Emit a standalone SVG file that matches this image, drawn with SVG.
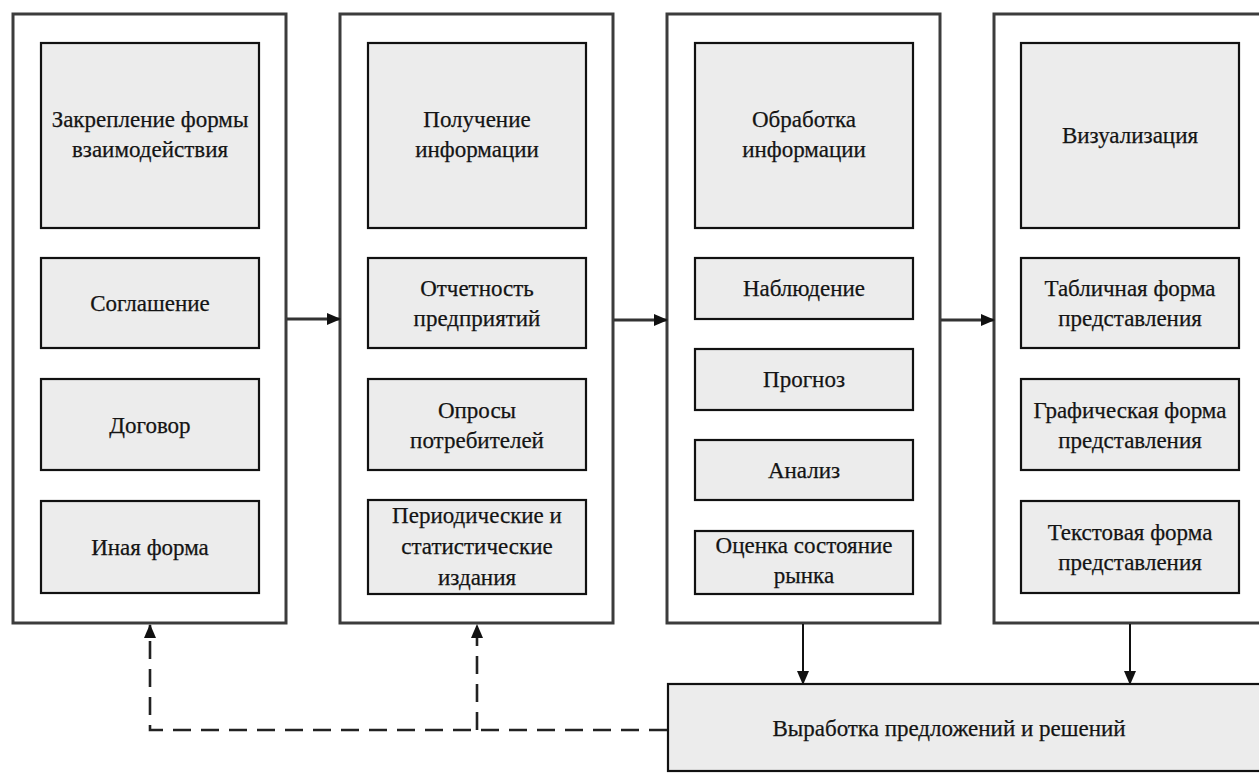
<svg xmlns="http://www.w3.org/2000/svg" width="1259" height="774" viewBox="0 0 1259 774">
  <defs>
    <marker id="arrow" markerUnits="userSpaceOnUse" markerWidth="14" markerHeight="14" viewBox="0 0 14 14" refX="13" refY="7" orient="auto">
      <path d="M0,1 L14,7 L0,13 Z" fill="#111"/>
    </marker>
    <style>
      .panel { fill: #ffffff; stroke: #3c3c3c; stroke-width: 3; }
      .box { fill: #ececec; stroke: #111111; stroke-width: 2.2; }
      .label { font-family: "Liberation Serif", "Times New Roman", serif; font-size: 23px; fill: #141414; stroke: #141414; stroke-width: 0.25; text-anchor: middle; }
      .flow { fill: none; stroke: #333333; stroke-width: 3; }
      .down { fill: none; stroke: #111111; stroke-width: 2; }
      .feedback { fill: none; stroke: #222222; stroke-width: 2.6; stroke-dasharray: 18 10; }
    </style>
  </defs>

  <rect width="1259" height="774" fill="#ffffff"/>

  <!-- Column 1: forms of interaction -->
  <g id="panel-interaction">
    <rect class="panel" x="13" y="14" width="273" height="609"/>
    <g id="fix-form">
      <rect class="box" x="41" y="43" width="218" height="185"/>
      <text class="label" x="150" y="127">Закрепление формы</text>
      <text class="label" x="150" y="157">взаимодействия</text>
    </g>
    <g id="agreement">
      <rect class="box" x="41" y="258" width="218" height="90"/>
      <text class="label" x="150" y="311">Соглашение</text>
    </g>
    <g id="contract">
      <rect class="box" x="41" y="379" width="218" height="91"/>
      <text class="label" x="150" y="433">Договор</text>
    </g>
    <g id="other-form">
      <rect class="box" x="41" y="501" width="218" height="92"/>
      <text class="label" x="150" y="555">Иная форма</text>
    </g>
  </g>

  <!-- Column 2: data acquisition -->
  <g id="panel-acquisition">
    <rect class="panel" x="340" y="14" width="273" height="609"/>
    <g id="get-info">
      <rect class="box" x="368" y="43" width="218" height="185"/>
      <text class="label" x="477" y="127">Получение</text>
      <text class="label" x="477" y="157">информации</text>
    </g>
    <g id="reports">
      <rect class="box" x="368" y="258" width="218" height="90"/>
      <text class="label" x="477" y="296">Отчетность</text>
      <text class="label" x="477" y="326">предприятий</text>
    </g>
    <g id="surveys">
      <rect class="box" x="368" y="379" width="218" height="91"/>
      <text class="label" x="477" y="418">Опросы</text>
      <text class="label" x="477" y="448">потребителей</text>
    </g>
    <g id="periodicals">
      <rect class="box" x="368" y="500" width="218" height="94"/>
      <text class="label" x="477" y="523">Периодические и</text>
      <text class="label" x="477" y="554">статистические</text>
      <text class="label" x="477" y="585">издания</text>
    </g>
  </g>

  <!-- Column 3: data processing -->
  <g id="panel-processing">
    <rect class="panel" x="667" y="14" width="273" height="609"/>
    <g id="process-info">
      <rect class="box" x="695" y="43" width="218" height="185"/>
      <text class="label" x="804" y="127">Обработка</text>
      <text class="label" x="804" y="157">информации</text>
    </g>
    <g id="observation">
      <rect class="box" x="695" y="258" width="218" height="61"/>
      <text class="label" x="804" y="296">Наблюдение</text>
    </g>
    <g id="forecast">
      <rect class="box" x="695" y="349" width="218" height="61"/>
      <text class="label" x="804" y="387">Прогноз</text>
    </g>
    <g id="analysis">
      <rect class="box" x="695" y="440" width="218" height="60"/>
      <text class="label" x="804" y="478">Анализ</text>
    </g>
    <g id="market-state">
      <rect class="box" x="695" y="531" width="218" height="63"/>
      <text class="label" x="804" y="553">Оценка состояние</text>
      <text class="label" x="804" y="583">рынка</text>
    </g>
  </g>

  <!-- Column 4: visualisation -->
  <g id="panel-visualisation">
    <rect class="panel" x="994" y="14" width="280" height="609"/>
    <g id="visualisation">
      <rect class="box" x="1021" y="43" width="218" height="185"/>
      <text class="label" x="1130" y="143">Визуализация</text>
    </g>
    <g id="table-form">
      <rect class="box" x="1021" y="258" width="218" height="90"/>
      <text class="label" x="1130" y="296">Табличная форма</text>
      <text class="label" x="1130" y="326">представления</text>
    </g>
    <g id="graphic-form">
      <rect class="box" x="1021" y="379" width="218" height="91"/>
      <text class="label" x="1130" y="418">Графическая форма</text>
      <text class="label" x="1130" y="448">представления</text>
    </g>
    <g id="text-form">
      <rect class="box" x="1021" y="501" width="218" height="92"/>
      <text class="label" x="1130" y="540">Текстовая форма</text>
      <text class="label" x="1130" y="570">представления</text>
    </g>
  </g>

  <!-- Proposals and decisions -->
  <g id="decisions">
    <rect class="box" x="668" y="684" width="610" height="87"/>
    <text class="label" x="949" y="736">Выработка предложений и решений</text>
  </g>

  <!-- Connectors -->
  <g id="connectors">
    <line class="flow" x1="287" y1="319" x2="340" y2="319" marker-end="url(#arrow)"/>
    <line class="flow" x1="614" y1="320" x2="667" y2="320" marker-end="url(#arrow)"/>
    <line class="flow" x1="941" y1="320" x2="994" y2="320" marker-end="url(#arrow)"/>
    <line class="down" x1="803" y1="624" x2="803" y2="684" marker-end="url(#arrow)"/>
    <line class="down" x1="1130" y1="624" x2="1130" y2="684" marker-end="url(#arrow)"/>
    <path class="feedback" d="M667,730 H150 V625" marker-end="url(#arrow)"/>
    <path class="feedback" d="M477,730 V625" marker-end="url(#arrow)"/>
  </g>
</svg>
